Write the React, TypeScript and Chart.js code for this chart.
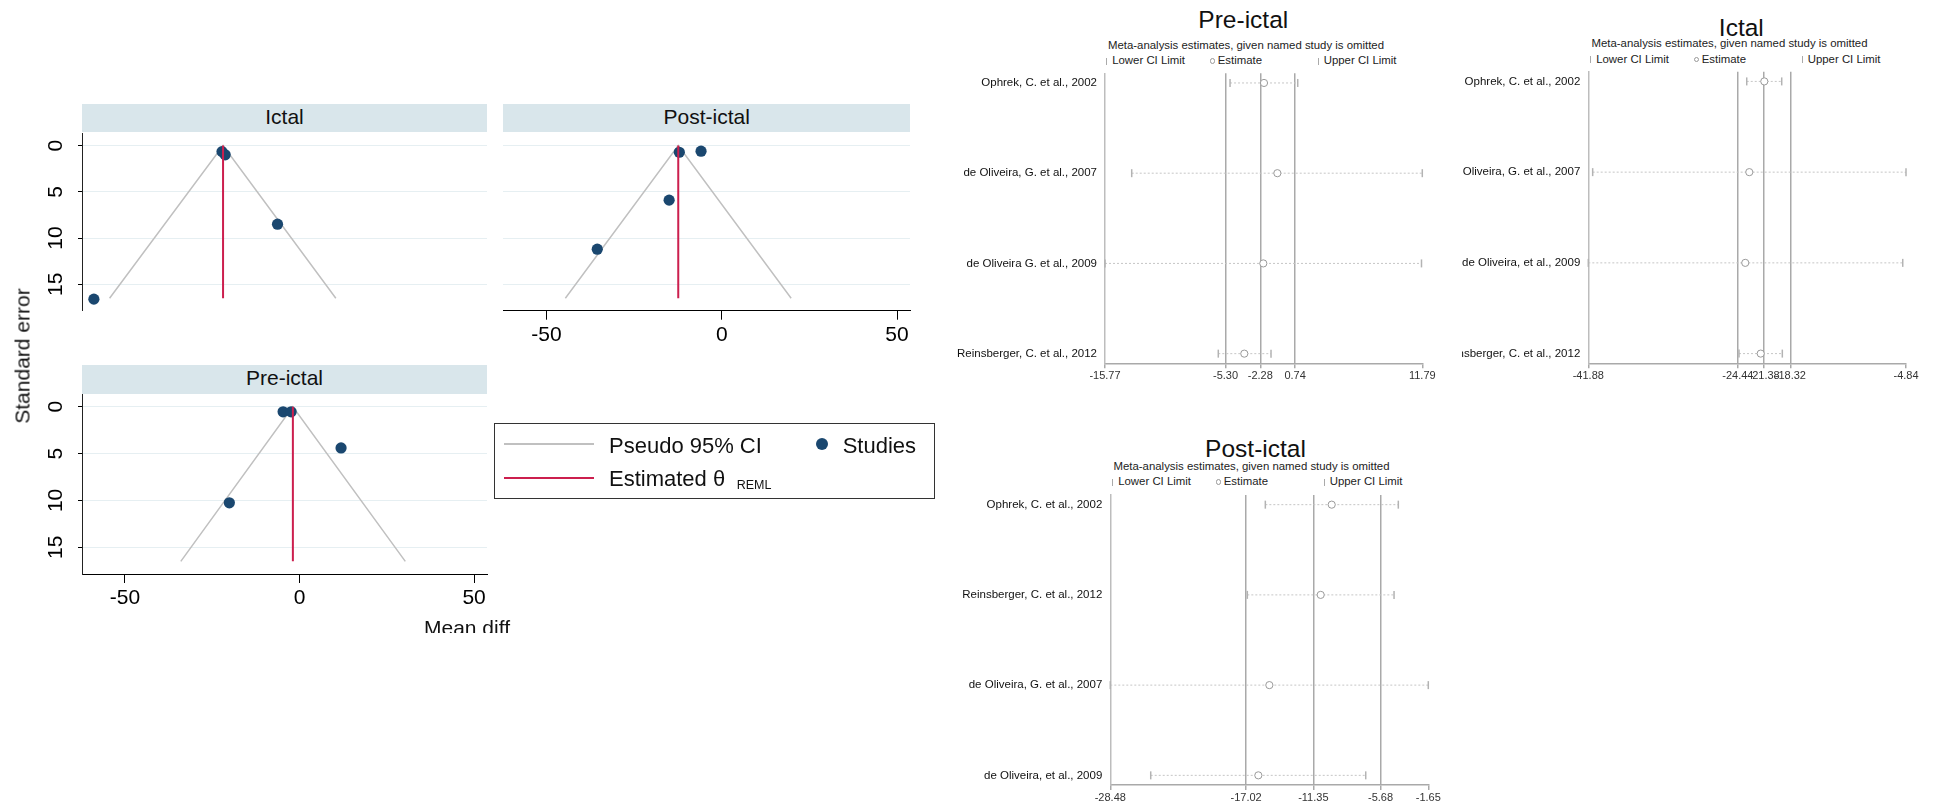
import React, { useEffect, useRef } from "react";
import { Chart, registerables } from "chart.js";
Chart.register(...registerables);

const FONT = "'Liberation Sans', Arial, Helvetica, sans-serif";
Chart.defaults.font.family = FONT;

// ---------------- Funnel plots (data) ----------------
const funnelXTicks = [-50, 0, 50];
const funnelYTicks = [0, 5, 10, 15];
const funnelXRange = [-62.3, 53.7];
const funnelYRange = [-1.36, 17.85];
const pseudoSEMax = 16.5;

const ictalMeanDiff = [-22.2, -21.3, -6.3, -58.9];
const ictalSE = [0.65, 1.0, 8.5, 16.6];
const ictalTheta = -21.9;
const ictalPseudoCI = [-54.4, 10.4];

const postMeanDiff = [-12.1, -5.9, -15.0, -35.5];
const postSE = [0.72, 0.61, 5.9, 11.2];
const postTheta = -12.4;
const postPseudoCI = [-44.6, 19.8];

const preMeanDiff = [-4.7, -2.4, 11.9, -20.1];
const preSE = [0.54, 0.54, 4.4, 10.25];
const preTheta = -1.9;
const prePseudoCI = [-34.0, 30.3];

// ---------------- Sensitivity (leave-one-out) data ----------------
const preStudies = ["Ophrek, C. et al., 2002", "de Oliveira, G. et al., 2007", "de Oliveira G. et al., 2009", "Reinsberger, C. et al., 2012"];
const preLower = [-4.91, -13.45, -15.77, -5.93];
const preEstimate = [-1.96, -0.8, -2.02, -3.67];
const preUpper = [0.97, 11.79, 11.72, -1.35];
const preAxisTicks = [-15.77, -5.3, -2.28, 0.74, 11.79];

const ictalStudies = ["Ophrek, C. et al., 2002", "de Oliveira, G. et al., 2007", "de Oliveira, et al., 2009", "Reinsberger, C. et al., 2012"];
const ictalLower = [-23.41, -41.37, -41.88, -24.31];
const ictalEstimate = [-21.36, -23.11, -23.58, -21.78];
const ictalUpper = [-19.33, -4.84, -5.22, -19.26];
const ictalAxisTicks = [-41.88, -24.44, -21.38, -18.32, -4.84];

const postStudies = ["Ophrek, C. et al., 2002", "Reinsberger, C. et al., 2012", "de Oliveira, G. et al., 2007", "de Oliveira, et al., 2009"];
const postLower = [-15.4, -16.92, -28.48, -25.07];
const postEstimate = [-9.8, -10.73, -15.06, -15.99];
const postUpper = [-4.18, -4.54, -1.65, -6.93];
const postAxisTicks = [-28.48, -17.02, -11.35, -5.68, -1.65];

// ---------------- styles ----------------
const NAVY = "#1a476f";
const RED = "#cc1f4e";
const PSEUDO = "#c0c0c0";
const GRID = "#e6eff2";
const STRIP = "#d9e6eb";
const SLINE = "#a9a9a9";

type Box = { l: number; t: number; w: number; h: number };
type Area = { l: number; t: number; r: number; b: number };

function ChartCanvas({ box, make, ox = 0, oy = 0 }: { box: Box; make: () => any; ox?: number; oy?: number }) {
  const ref = useRef<HTMLCanvasElement | null>(null);
  useEffect(() => {
    if (!ref.current) return;
    const chart = new Chart(ref.current, make());
    return () => chart.destroy();
  }, []);
  return (
    <canvas
      ref={ref}
      width={box.w}
      height={box.h}
      style={{ position: "absolute", left: box.l - ox, top: box.t - oy, width: box.w, height: box.h }}
    />
  );
}

function T({ x, y, size, children, align = "left", color = "#111" }: any) {
  const style: any = {
    position: "absolute",
    top: y - 0.4885 * size,
    fontSize: size,
    lineHeight: `${size}px`,
    whiteSpace: "nowrap",
    color,
    fontFamily: FONT,
  };
  style.left = x;
  if (align === "center") style.transform = "translateX(-50%)";
  return <div style={style}>{children}</div>;
}

function funnelConfig(o: {
  box: Box; area: Area; md: number[]; se: number[]; theta: number; ci: number[]; showY: boolean; showX: boolean;
}) {
  const { box, area } = o;
  const yw = o.showY ? area.l - box.l : 0;
  const xh = o.showX ? 40 : 0;
  const padding = {
    left: area.l - box.l - yw,
    right: box.l + box.w - area.r,
    top: area.t - box.t,
    bottom: box.t + box.h - area.b - xh,
  };
  return {
    type: "scatter",
    data: {
      datasets: [
        {
          label: "Estimated θ REML",
          data: [{ x: o.theta, y: 0 }, { x: o.theta, y: pseudoSEMax }],
          showLine: true, borderColor: RED, borderWidth: 2, pointRadius: 0, order: 0, clip: false,
        },
        {
          label: "Studies",
          data: o.md.map((x, i) => ({ x, y: o.se[i] })),
          pointRadius: 5.6, pointBackgroundColor: NAVY, pointBorderColor: NAVY, pointBorderWidth: 0, order: 1, clip: false,
        },
        {
          label: "Pseudo 95% CI",
          data: [{ x: o.ci[0], y: pseudoSEMax }, { x: o.theta, y: 0 }, { x: o.ci[1], y: pseudoSEMax }],
          showLine: true, borderColor: PSEUDO, borderWidth: 1.5, pointRadius: 0, order: 2, clip: false,
        },
      ],
    },
    options: {
      animation: false,
      responsive: false,
      devicePixelRatio: 1,
      events: [],
      layout: { padding },
      plugins: { legend: { display: false }, tooltip: { enabled: false }, title: { display: false } },
      scales: {
        x: {
          type: "linear",
          min: funnelXRange[0],
          max: funnelXRange[1],
          display: o.showX,
          afterBuildTicks: (s: any) => { s.ticks = funnelXTicks.map((v) => ({ value: v })); },
          afterFit: (s: any) => { s.height = xh; },
          grid: { drawOnChartArea: false, drawTicks: true, tickLength: 9, tickColor: "#000", color: "#000" },
          border: { display: true, color: "#000", width: 1 },
          ticks: { color: "#000", font: { size: 21, family: FONT }, padding: 2.5, maxRotation: 0, minRotation: 0, autoSkip: false },
        },
        y: {
          type: "linear",
          reverse: true,
          min: funnelYRange[0],
          max: funnelYRange[1],
          display: true,
          afterBuildTicks: (s: any) => { s.ticks = funnelYTicks.map((v) => ({ value: v })); },
          afterFit: (s: any) => { s.width = yw; },
          grid: { color: GRID, lineWidth: 1, drawTicks: o.showY, tickLength: 4, tickColor: "#000" },
          border: { display: o.showY, color: "#222", width: 1 },
          ticks: {
            display: o.showY, minRotation: 90, maxRotation: 90, crossAlign: "center", padding: 10,
            color: "#000", font: { size: 21, family: FONT }, autoSkip: false,
          },
        },
      },
    },
  };
}

function sensConfig(o: {
  box: Box; area: Area; studies: string[]; lower: number[]; est: number[]; upper: number[]; axisTicks: number[]; xh: number;
}) {
  const { box, area } = o;
  const yw = area.l - box.l;
  const xh = o.xh;
  const padding = {
    left: 0,
    right: box.l + box.w - area.r,
    top: area.t - box.t,
    bottom: box.t + box.h - area.b - xh,
  };
  const rows = o.studies.map((_, i) => i + 1);
  const last = o.axisTicks.length - 1;
  return {
    type: "scatter",
    data: {
      datasets: [
        ...o.studies.map((name, i) => ({
          label: name,
          data: [{ x: o.lower[i], y: rows[i] }, { x: o.upper[i], y: rows[i] }],
          showLine: true, borderColor: "#c6c6c6", borderWidth: 1, borderDash: [2, 2], pointRadius: 0, order: 3, clip: false,
        })),
        {
          label: "Lower CI Limit",
          data: o.lower.map((x, i) => ({ x, y: rows[i] })),
          pointStyle: "line", pointRotation: 90, pointRadius: 4, pointBorderColor: "#b3b3b3", pointBorderWidth: 1.5, order: 2, clip: false,
        },
        {
          label: "Upper CI Limit",
          data: o.upper.map((x, i) => ({ x, y: rows[i] })),
          pointStyle: "line", pointRotation: 90, pointRadius: 4, pointBorderColor: "#b3b3b3", pointBorderWidth: 1.5, order: 2, clip: false,
        },
        {
          label: "Estimate",
          data: o.est.map((x, i) => ({ x, y: rows[i] })),
          pointStyle: "circle", pointRadius: 3.6, pointBackgroundColor: "#ffffff", pointBorderColor: "#9a9a9a", pointBorderWidth: 1, order: 1, clip: false,
        },
      ],
    },
    options: {
      animation: false,
      responsive: false,
      devicePixelRatio: 1,
      events: [],
      layout: { padding },
      plugins: { legend: { display: false }, tooltip: { enabled: false }, title: { display: false } },
      scales: {
        x: {
          type: "linear",
          min: o.axisTicks[0],
          max: o.axisTicks[last],
          afterBuildTicks: (s: any) => { s.ticks = o.axisTicks.map((v) => ({ value: v })); },
          afterFit: (s: any) => { s.height = xh; },
          grid: {
            drawOnChartArea: true,
            drawTicks: true,
            tickLength: 5,
            tickColor: SLINE,
            lineWidth: 1.5,
            color: (ctx: any) => (ctx.index === 0 || ctx.index === last ? "rgba(0,0,0,0)" : SLINE),
          },
          border: { display: true, color: SLINE, width: 1.5 },
          ticks: {
            autoSkip: false, maxRotation: 0, minRotation: 0, padding: 1.5,
            color: "#333", font: { size: 11, family: FONT },
            callback: (v: any) => Number(v).toFixed(2),
          },
        },
        y: {
          type: "linear",
          reverse: true,
          min: 0.893,
          max: 4.107,
          afterBuildTicks: (s: any) => { s.ticks = rows.map((v) => ({ value: v })); },
          afterFit: (s: any) => { s.width = yw; },
          grid: { display: false, drawTicks: false, tickLength: 0 },
          border: { display: true, color: "#bdbdbd", width: 1.5 },
          ticks: {
            autoSkip: false, padding: 8, color: "#111", font: { size: 11.5, family: FONT },
            callback: (_v: any, i: number) => o.studies[i],
          },
        },
      },
    },
  };
}

function SensLegend({ x0, y }: { x0: number; y: number }) {
  const size = 11.4;
  return (
    <>
      <div style={{ position: "absolute", left: x0 - 0.5, top: y - 3.5, width: 1, height: 7, background: "#aaa" }} />
      <T x={x0 + 5.5} y={y} size={size} color="#222">Lower CI Limit</T>
      <div
        style={{
          position: "absolute", left: x0 + 106 - 2.8, top: y - 2.8, width: 5.6, height: 5.6,
          border: "1px solid #999", borderRadius: "50%", boxSizing: "border-box",
        }}
      />
      <T x={x0 + 111} y={y} size={size} color="#222">Estimate</T>
      <div style={{ position: "absolute", left: x0 + 211.6 - 0.5, top: y - 3.5, width: 1, height: 7, background: "#aaa" }} />
      <T x={x0 + 217} y={y} size={size} color="#222">Upper CI Limit</T>
    </>
  );
}

function Strip({ l, t, w, h, text }: { l: number; t: number; w: number; h: number; text: string }) {
  return (
    <div
      style={{
        position: "absolute", left: l, top: t, width: w, height: h, background: STRIP,
        display: "flex", alignItems: "center", justifyContent: "center", boxSizing: "border-box", paddingBottom: 3,
        fontFamily: FONT, fontSize: 21, color: "#111",
      }}
    >
      {text}
    </div>
  );
}

export default function App() {
  const ictalFunnelBox = { l: 0, t: 100, w: 500, h: 240 };
  const ictalFunnelArea = { l: 82, t: 133, r: 487, b: 310.7 };
  const postFunnelBox = { l: 490, t: 100, w: 440, h: 260 };
  const postFunnelArea = { l: 503.3, t: 133, r: 910, b: 310.7 };
  const preFunnelBox = { l: 0, t: 360, w: 500, h: 270 };
  const preFunnelArea = { l: 82, t: 394, r: 487, b: 574 };

  const preSensBox = { l: 945, t: 57, w: 510, h: 338 };
  const preSensArea = { l: 1105, t: 73.3, r: 1422.3, b: 363.3 };
  const ictalSensBox = { l: 1430, t: 55, w: 505, h: 340 };
  const ictalSensArea = { l: 1588.3, t: 71.7, r: 1906, b: 363.3 };
  const postSensBox = { l: 945, t: 478, w: 510, h: 329 };
  const postSensArea = { l: 1110.3, t: 495, r: 1428.3, b: 785 };

  return (
    <div style={{ position: "absolute", left: 0, top: 0, width: 1939, height: 807, background: "#fff", overflow: "hidden", fontFamily: FONT }}>
      {/* ---------- Funnel plots ---------- */}
      <Strip l={82} t={104} w={405} h={28} text="Ictal" />
      <Strip l={503.3} t={104} w={406.7} h={28} text="Post-ictal" />
      <Strip l={82} t={365} w={405} h={28.5} text="Pre-ictal" />

      <ChartCanvas
        box={ictalFunnelBox}
        make={() => funnelConfig({ box: ictalFunnelBox, area: ictalFunnelArea, md: ictalMeanDiff, se: ictalSE, theta: ictalTheta, ci: ictalPseudoCI, showY: true, showX: false })}
      />
      <ChartCanvas
        box={postFunnelBox}
        make={() => funnelConfig({ box: postFunnelBox, area: postFunnelArea, md: postMeanDiff, se: postSE, theta: postTheta, ci: postPseudoCI, showY: false, showX: true })}
      />
      <ChartCanvas
        box={preFunnelBox}
        make={() => funnelConfig({ box: preFunnelBox, area: preFunnelArea, md: preMeanDiff, se: preSE, theta: preTheta, ci: prePseudoCI, showY: true, showX: true })}
      />

      <div
        style={{
          position: "absolute", left: 22, top: 355.5, transform: "translate(-50%, -50%) rotate(-90deg)",
          fontSize: 21, lineHeight: "21px", whiteSpace: "nowrap", color: "#111",
        }}
      >
        Standard error
      </div>
      <div style={{ position: "absolute", left: 400, top: 600, width: 200, height: 33, overflow: "hidden" }}>
        <div style={{ position: "absolute", left: 24, top: 627.5 - 0.4885 * 21 - 600, fontSize: 21, lineHeight: "21px", whiteSpace: "nowrap", color: "#111" }}>
          Mean diff
        </div>
      </div>

      {/* funnel legend */}
      <div style={{ position: "absolute", left: 494.3, top: 422.7, width: 440.7, height: 76.6, border: "1px solid #333", boxSizing: "border-box" }} />
      <div style={{ position: "absolute", left: 504, top: 443, width: 90, height: 1.5, background: PSEUDO }} />
      <div style={{ position: "absolute", left: 504, top: 476.7, width: 90, height: 2, background: RED }} />
      <div style={{ position: "absolute", left: 821.7 - 6, top: 443.7 - 6, width: 12, height: 12, borderRadius: "50%", background: NAVY }} />
      <T x={609} y={445.8} size={22}>Pseudo 95% CI</T>
      <T x={842.7} y={445.8} size={22}>Studies</T>
      <T x={609} y={478.8} size={22}>Estimated θ</T>
      <T x={736.7} y={485.5} size={12.5}>REML</T>

      {/* ---------- Sensitivity plots ---------- */}
      <T x={1243.3} y={20} size={24.5} align="center">Pre-ictal</T>
      <T x={1108} y={45.5} size={11.4} color="#222">Meta-analysis estimates, given named study is omitted</T>
      <SensLegend x0={1106.7} y={61} />
      <ChartCanvas
        box={preSensBox}
        make={() => sensConfig({ box: preSensBox, area: preSensArea, studies: preStudies, lower: preLower, est: preEstimate, upper: preUpper, axisTicks: preAxisTicks, xh: 25 })}
      />

      <T x={1741.3} y={28} size={24.5} align="center">Ictal</T>
      <T x={1591.5} y={44} size={11.4} color="#222">Meta-analysis estimates, given named study is omitted</T>
      <SensLegend x0={1590.7} y={59.3} />
      <div style={{ position: "absolute", left: 1462, top: 0, width: 477, height: 400, overflow: "hidden" }}>
        <ChartCanvas
          box={ictalSensBox}
          ox={1462}
          make={() => sensConfig({ box: ictalSensBox, area: ictalSensArea, studies: ictalStudies, lower: ictalLower, est: ictalEstimate, upper: ictalUpper, axisTicks: ictalAxisTicks, xh: 25 })}
        />
      </div>

      <T x={1255.5} y={449} size={24.5} align="center">Post-ictal</T>
      <T x={1113.5} y={466.5} size={11.4} color="#222">Meta-analysis estimates, given named study is omitted</T>
      <SensLegend x0={1112.7} y={482} />
      <ChartCanvas
        box={postSensBox}
        make={() => sensConfig({ box: postSensBox, area: postSensArea, studies: postStudies, lower: postLower, est: postEstimate, upper: postUpper, axisTicks: postAxisTicks, xh: 22 })}
      />
    </div>
  );
}
